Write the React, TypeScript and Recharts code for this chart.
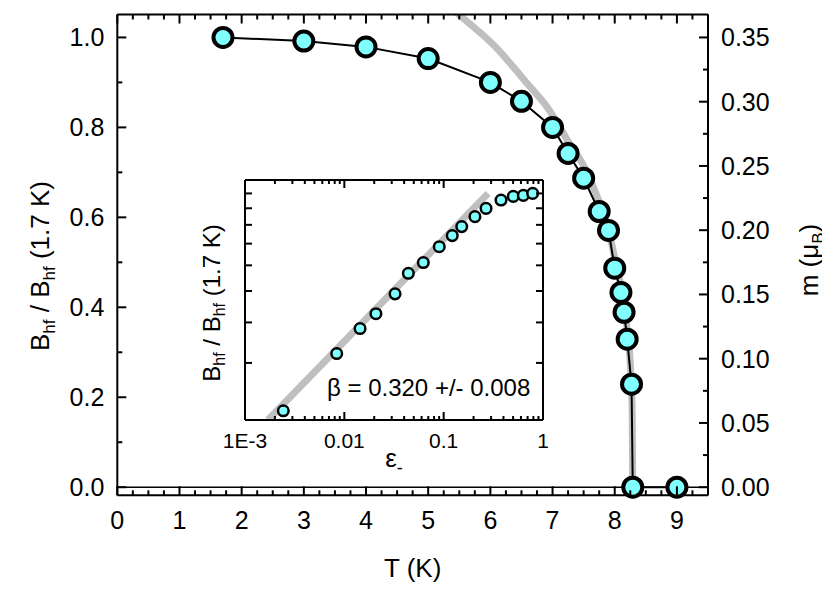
import React from 'react';
import { ComposedChart, Line, XAxis, YAxis, Scatter, ReferenceLine, Label } from 'recharts';

// ---------- main panel data ----------
const tempK = [1.7, 3.0, 4.0, 5.0, 6.0, 6.5, 7.0, 7.25, 7.5, 7.75, 7.9, 8.0, 8.1, 8.15, 8.2, 8.27, 8.29, 9.0];
const bRatio = [1.0, 0.992, 0.979, 0.953, 0.9, 0.858, 0.8, 0.742, 0.687, 0.613, 0.571, 0.487, 0.433, 0.389, 0.329, 0.229, 0, 0];
// grey power-law fit curve
const fitT = [5.4, 5.5, 6.09, 6.57, 6.94, 7.26, 7.53, 7.72, 7.9, 8.0, 8.1, 8.2, 8.25, 8.28, 8.29];
const fitB = [1.062, 1.05, 0.978, 0.901, 0.84, 0.767, 0.707, 0.645, 0.572, 0.51, 0.446, 0.352, 0.276, 0.175, 0];

// ---------- inset data ----------
const epsMinus = [0.00243, 0.00838, 0.0144, 0.0208, 0.0324, 0.0441, 0.0624, 0.0903, 0.122, 0.152, 0.2065, 0.267, 0.378, 0.502, 0.634, 0.787];
const insetB = [0.2135, 0.3206, 0.383, 0.4255, 0.49, 0.567, 0.612, 0.685, 0.741, 0.79, 0.848, 0.899, 0.954, 0.979, 0.986, 1.0];
const insetFitEps = [0.0017, 0.28];
const insetFitB = [0.2, 1.0];

// ---------- ticks ----------
const xMajorTicks = [0, 1, 2, 3, 4, 5, 6, 7, 8, 9];
const xMinorStep = 0.25;
const xMax = 9.5;
const leftMajorTicks = [0, 0.2, 0.4, 0.6, 0.8, 1.0];
const leftMinorStep = 0.1;
const rightMajorTicks = [0, 0.05, 0.1, 0.15, 0.2, 0.25, 0.3, 0.35];
const rightMinorStep = 0.025;
const insetXDecades = [0.001, 0.01, 0.1, 1];
const insetXLabels = ['1E-3', '0.01', '0.1', '1'];
const insetYTicks = [0.3, 0.4, 0.5, 0.6, 0.7, 0.8, 0.9, 1.0];

const mainData = tempK.map((T, i) => ({ T, B: bRatio[i] }));
const fitData = fitT.map((T, i) => ({ T, B: fitB[i] }));
const insetData = epsMinus.map((e, i) => ({ e, v: insetB[i] }));
const insetFit = insetFitEps.map((e, i) => ({ e, v: insetFitB[i] }));

const steps = (from: number, to: number, step: number) => {
  const out: number[] = [];
  const n = Math.round((to - from) / step);
  for (let i = 0; i <= n; i++) out.push(+(from + i * step).toFixed(6));
  return out;
};
const xAllTicks = steps(0, xMax, xMinorStep);
const leftAllTicks = steps(0, 1.0, leftMinorStep);
const rightAllTicks = steps(0, 0.35, rightMinorStep);
const insetXAll: number[] = [];
insetXDecades.slice(0, 3).forEach((d) => {
  for (let k = 1; k <= 9; k++) insetXAll.push(+(d * k).toPrecision(6));
});
insetXAll.push(1);

const isIn = (v: number, arr: number[]) => arr.some((a) => Math.abs(a - v) < 1e-9);

const FONT = '"Liberation Sans", Arial, Helvetica, sans-serif';
const CYAN = '#80ffff';
const GREY = '#bfbfbf';
const TICK_FS = 25;
const TITLE_FS = 26;

// ---------- main ticks ----------
const BottomTick = (p: any) => {
  const { x, y, payload } = p;
  const major = isIn(payload.value, xMajorTicks);
  return (
    <g>
      <line x1={x} x2={x} y1={y} y2={y - (major ? 9 : 5)} stroke="#000" strokeWidth={2} />
      {major && (
        <text x={x} y={y + 34} textAnchor="middle" fontSize={TICK_FS} fontFamily={FONT} fill="#000">
          {String(payload.value)}
        </text>
      )}
    </g>
  );
};
const TopTick = (p: any) => {
  const { x, y, payload } = p;
  const major = isIn(payload.value, xMajorTicks);
  return <line x1={x} x2={x} y1={y} y2={y + (major ? 9 : 5)} stroke="#000" strokeWidth={2} />;
};
const LeftTick = (p: any) => {
  const { x, y, payload } = p;
  const major = isIn(payload.value, leftMajorTicks);
  return (
    <g>
      <line x1={x} x2={x + (major ? 9 : 5)} y1={y} y2={y} stroke="#000" strokeWidth={2} />
      {major && (
        <text x={x - 13} y={y} dy="0.36em" textAnchor="end" fontSize={TICK_FS} fontFamily={FONT} fill="#000">
          {payload.value.toFixed(1)}
        </text>
      )}
    </g>
  );
};
const RightTick = (p: any) => {
  const { x, y, payload } = p;
  const major = isIn(payload.value, rightMajorTicks);
  return (
    <g>
      <line x1={x} x2={x - (major ? 9 : 5)} y1={y} y2={y} stroke="#000" strokeWidth={2} />
      {major && (
        <text x={x + 13} y={y} dy="0.36em" textAnchor="start" fontSize={TICK_FS} fontFamily={FONT} fill="#000">
          {payload.value.toFixed(2)}
        </text>
      )}
    </g>
  );
};

// ---------- inset ticks ----------
const isDecade = (v: number) => Math.abs(Math.log10(v) - Math.round(Math.log10(v))) < 1e-6;
const InsetBottomTick = (p: any) => {
  const { x, y, payload } = p;
  const major = isDecade(payload.value);
  const idx = insetXDecades.findIndex((d) => Math.abs(d - payload.value) < 1e-9);
  return (
    <g>
      <line x1={x} x2={x} y1={y} y2={y - (major ? 8 : 4)} stroke="#000" strokeWidth={2} />
      {major && idx >= 0 && (
        <text x={x} y={y + 28} textAnchor="middle" fontSize={21} fontFamily={FONT} fill="#000">
          {insetXLabels[idx]}
        </text>
      )}
    </g>
  );
};
const InsetTopTick = (p: any) => {
  const { x, y, payload } = p;
  const major = isDecade(payload.value);
  return <line x1={x} x2={x} y1={y} y2={y + (major ? 8 : 4)} stroke="#000" strokeWidth={2} />;
};
const InsetLeftTick = (p: any) => {
  const { x, y } = p;
  return <line x1={x} x2={x + 7} y1={y} y2={y} stroke="#000" strokeWidth={2} />;
};
const InsetRightTick = (p: any) => {
  const { x, y } = p;
  return <line x1={x} x2={x - 7} y1={y} y2={y} stroke="#000" strokeWidth={2} />;
};

// ---------- layout (chart coordinates) ----------
const W = 822;
const H = 583;
const PL = 109.3; // plot left
const PT = 6.5; // plot top
const PR = 700; // plot right
const PB = 487.3; // plot bottom

const LeftTitle = () => {
  const cx = 41;
  const cy = 258;
  return (
    <text transform={`rotate(-90, ${cx}, ${cy})`} x={cx} y={cy} textAnchor="middle" fontSize={TITLE_FS} fontFamily={FONT} fill="#000">
      B<tspan dy={6} fontSize={17}>hf</tspan>
      <tspan dy={-6}> / B</tspan>
      <tspan dy={6} fontSize={17}>hf</tspan>
      <tspan dy={-6}> (1.7 K)</tspan>
    </text>
  );
};
const RightTitle = () => {
  const cx = 810;
  const cy = 252;
  return (
    <text transform={`rotate(-90, ${cx}, ${cy})`} x={cx} y={cy} textAnchor="middle" fontSize={TITLE_FS} fontFamily={FONT} fill="#000">
      m (μ<tspan dy={6} fontSize={17}>B</tspan>
      <tspan dy={-6}>)</tspan>
    </text>
  );
};
const BottomTitle = () => (
  <text x={(PL + PR) / 2} y={569} textAnchor="middle" fontSize={TITLE_FS} fontFamily={FONT} fill="#000">
    T (K)
  </text>
);

// inset layout
const IW = 360;
const IH = 310;
const IL = 55;
const IT = 10;
const IR = 353;
const IB = 250;

const InsetYTitle = () => {
  const cx = 30;
  const cy = 133;
  return (
    <text transform={`rotate(-90, ${cx}, ${cy})`} x={cx} y={cy} textAnchor="middle" fontSize={24} fontFamily={FONT} fill="#000">
      B<tspan dy={5} fontSize={16}>hf</tspan>
      <tspan dy={-5}> / B</tspan>
      <tspan dy={5} fontSize={16}>hf</tspan>
      <tspan dy={-5}> (1.7 K)</tspan>
    </text>
  );
};
const InsetXTitle = () => (
  <text x={(IL + IR) / 2} y={297} textAnchor="middle" fontSize={26} fontFamily={FONT} fill="#000">
    ε<tspan dy={7} fontSize={18}>-</tspan>
  </text>
);

const InsetDot = (p: any) => {
  if (p.cx == null || p.cy == null) return null;
  return <circle cx={p.cx} cy={p.cy} r={5.3} fill={CYAN} stroke="#000" strokeWidth={2.5} />;
};

export default function App() {
  return (
    <div style={{ position: 'relative', width: W, height: H, background: '#fff' }}>
      <ComposedChart width={W} height={H} data={mainData} margin={{ top: 0, right: 0, bottom: 0, left: 0 }}>
        <XAxis
          xAxisId="bottom"
          dataKey="T"
          type="number"
          domain={[0, xMax]}
          allowDataOverflow
          ticks={xAllTicks}
          interval={0}
          tick={<BottomTick />}
          tickLine={false}
          tickSize={0}
          tickMargin={0}
          axisLine={{ stroke: '#000', strokeWidth: 2 }}
          height={H - PB}
        >
          <Label content={<BottomTitle />} />
        </XAxis>
        <XAxis
          xAxisId="top"
          orientation="top"
          dataKey="T"
          type="number"
          domain={[0, xMax]}
          allowDataOverflow
          ticks={xAllTicks}
          interval={0}
          tick={<TopTick />}
          tickLine={false}
          tickSize={0}
          tickMargin={0}
          axisLine={{ stroke: '#000', strokeWidth: 2 }}
          height={PT}
        />
        <YAxis
          yAxisId="left"
          type="number"
          domain={[-0.018, 1.051]}
          allowDataOverflow
          ticks={leftAllTicks}
          interval={0}
          tick={<LeftTick />}
          tickLine={false}
          tickSize={0}
          tickMargin={0}
          axisLine={{ stroke: '#000', strokeWidth: 2 }}
          width={PL}
        >
          <Label content={<LeftTitle />} />
        </YAxis>
        <YAxis
          yAxisId="right"
          orientation="right"
          type="number"
          domain={[-0.018 * 0.35, 1.051 * 0.35]}
          allowDataOverflow
          ticks={rightAllTicks}
          interval={0}
          tick={<RightTick />}
          tickLine={false}
          tickSize={0}
          tickMargin={0}
          axisLine={{ stroke: '#000', strokeWidth: 2 }}
          width={W - PR}
        >
          <Label content={<RightTitle />} />
        </YAxis>
        <ReferenceLine xAxisId="bottom" yAxisId="left" y={0} stroke="#000" strokeWidth={1.6} />
        <Line
          xAxisId="bottom"
          yAxisId="left"
          data={fitData}
          dataKey="B"
          type="monotone"
          stroke={GREY}
          strokeWidth={7}
          dot={false}
          activeDot={false}
          isAnimationActive={false}
        />
        <Line
          xAxisId="bottom"
          yAxisId="left"
          dataKey="B"
          type="linear"
          stroke="#000"
          strokeWidth={2}
          dot={{ r: 9.5, fill: CYAN, stroke: '#000', strokeWidth: 4, clipDot: false } as any}
          activeDot={false}
          isAnimationActive={false}
        />
      </ComposedChart>

      <div style={{ position: 'absolute', left: 182, top: 162, width: IW, height: IH }}>
        <ComposedChart width={IW} height={IH} margin={{ top: 0, right: 0, bottom: 0, left: 0 }}>
          <XAxis
            xAxisId="ib"
            dataKey="e"
            type="number"
            scale="log"
            domain={[0.001, 1]}
            allowDataOverflow
            ticks={insetXAll}
            interval={0}
            tick={<InsetBottomTick />}
            tickLine={false}
            tickSize={0}
            tickMargin={0}
            axisLine={{ stroke: '#000', strokeWidth: 2 }}
            height={IH - IB}
          >
            <Label content={<InsetXTitle />} />
          </XAxis>
          <XAxis
            xAxisId="it"
            orientation="top"
            dataKey="e"
            type="number"
            scale="log"
            domain={[0.001, 1]}
            allowDataOverflow
            ticks={insetXAll}
            interval={0}
            tick={<InsetTopTick />}
            tickLine={false}
            tickSize={0}
            tickMargin={0}
            axisLine={{ stroke: '#000', strokeWidth: 2 }}
            height={IT}
          />
          <YAxis
            yAxisId="il"
            type="number"
            scale="log"
            domain={[0.2, 1.1]}
            allowDataOverflow
            ticks={insetYTicks}
            interval={0}
            tick={<InsetLeftTick />}
            tickLine={false}
            tickSize={0}
            tickMargin={0}
            axisLine={{ stroke: '#000', strokeWidth: 2 }}
            width={IL}
          >
            <Label content={<InsetYTitle />} />
          </YAxis>
          <YAxis
            yAxisId="ir"
            orientation="right"
            type="number"
            scale="log"
            domain={[0.2, 1.1]}
            allowDataOverflow
            ticks={insetYTicks}
            interval={0}
            tick={<InsetRightTick />}
            tickLine={false}
            tickSize={0}
            tickMargin={0}
            axisLine={{ stroke: '#000', strokeWidth: 2 }}
            width={IW - IR}
          />
          <Line
            xAxisId="ib"
            yAxisId="il"
            data={insetFit}
            dataKey="v"
            type="linear"
            stroke={GREY}
            strokeWidth={7}
            dot={false}
            activeDot={false}
            isAnimationActive={false}
          />
          <Scatter
            xAxisId="ib"
            yAxisId="il"
            data={insetData}
            dataKey="v"
            shape={<InsetDot />}
            isAnimationActive={false}
          />
          <text x={137} y={226} fontSize={24} fontFamily={FONT} fill="#000">
            β = 0.320 +/- 0.008
          </text>
        </ComposedChart>
      </div>
    </div>
  );
}
